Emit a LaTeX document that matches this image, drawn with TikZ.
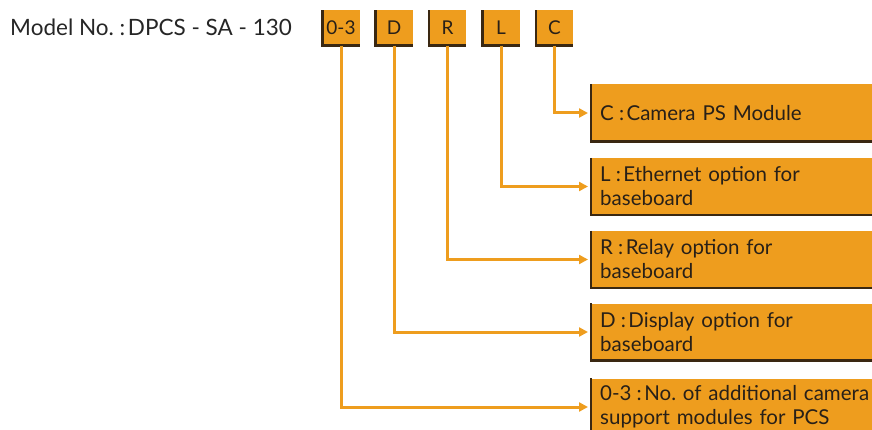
\documentclass[tikz,border=0pt]{standalone}
\usepackage{fontspec}
\setmainfont{Lato}
\usetikzlibrary{arrows.meta}
\definecolor{ora}{RGB}{238,157,30}
\definecolor{dk}{RGB}{58,40,18}
\definecolor{txt}{RGB}{40,32,24}
\frenchspacing
\tikzset{
  codebox/.style={fill=ora, minimum width=37pt, minimum height=35pt, inner sep=0pt, text=txt, font=\fontsize{19}{22}\selectfont},
  descbox/.style={fill=ora, minimum width=300pt, minimum height=57pt, text width=282pt, align=left, inner xsep=9pt, inner ysep=0pt, anchor=west, text=txt, font=\fontsize{20.5}{24}\selectfont},
  conn/.style={draw=ora, line width=3pt, -{Triangle[length=9pt,width=9pt]}, shorten >=3pt},
  edge/.style={draw=dk, line width=2.5pt}
}
\newcommand{\shadeedge}[1]{\draw[edge] (#1.north west) -- (#1.south west) -- (#1.south east);}
\newcommand{\cln}{\hspace{0.25em}:\hspace{0.12em}}
\begin{document}
\begin{tikzpicture}[x=1pt,y=-1pt]
\useasboundingbox (0,0) rectangle (872,430);
\clip (0,0) rectangle (872,430);
\node[anchor=base west, text=black!85, font=\fontsize{22.5}{25}\selectfont, inner sep=0pt] (title) at (10,36) {Model No.\cln DPCS - SA - 130};
\node[codebox] (t0) at (341,28) {0-3};
\node[codebox] (tD) at (394,28) {D};
\node[codebox] (tR) at (447.5,28) {R};
\node[codebox] (tL) at (501,28) {L};
\node[codebox] (tC) at (554.5,28) {C};
\foreach \n in {t0,tD,tR,tL,tC} {\shadeedge{\n}}
\node[descbox] (bC) at (591,113) {C\cln Camera PS Module};
\node[descbox] (bL) at (591,186.5) {L\cln Ethernet option for\\baseboard};
\node[descbox] (bR) at (591,259.5) {R\cln Relay option for\\baseboard};
\node[descbox] (bD) at (591,332) {D\cln Display option for\\baseboard};
\node[descbox] (b0) at (591,407) {0-3\cln No. of additional camera\\support modules for PCS};
\foreach \n in {bC,bL,bR,bD,b0} {\shadeedge{\n}}
\draw[conn] (tC.south) |- (bC.west);
\draw[conn] (tL.south) |- (bL.west);
\draw[conn] (tR.south) |- (bR.west);
\draw[conn] (tD.south) |- (bD.west);
\draw[conn] (t0.south) |- (b0.west);
\end{tikzpicture}
\end{document}
